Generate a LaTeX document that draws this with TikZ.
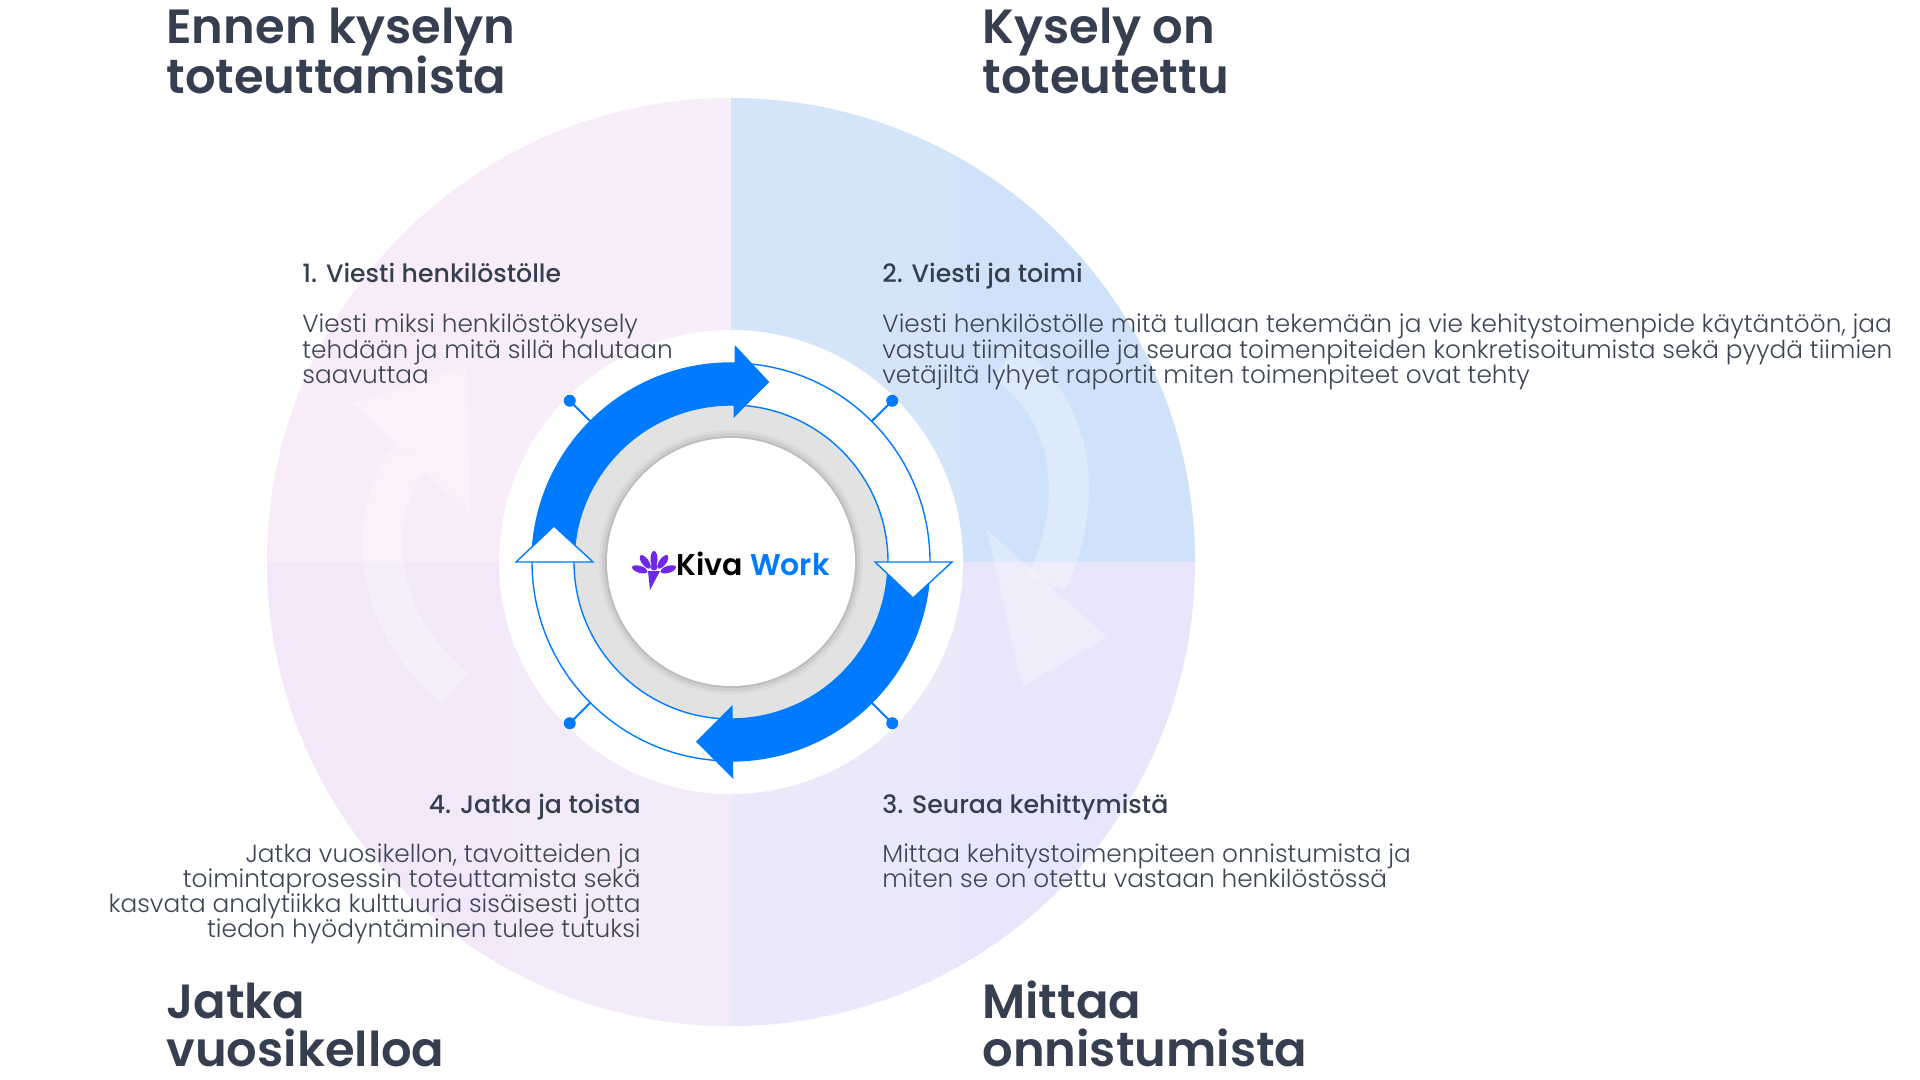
\documentclass[tikz,border=0pt]{standalone}
\usepackage{fontspec}
\setmainfont{Poppins Light}
\newfontfamily\headfont{Poppins SemiBold}
\newfontfamily\subfont{Poppins Medium}
\usetikzlibrary{positioning}

\definecolor{kivablue}{RGB}{0,123,255}
\definecolor{kivapurple}{RGB}{112,40,232}
\definecolor{headgray}{RGB}{54,63,80}
\definecolor{bodygray}{RGB}{62,70,86}
\definecolor{quadtl}{RGB}{248,236,249}
\definecolor{quadtr}{RGB}{207,226,250}
\definecolor{quadbl}{RGB}{242,232,250}
\definecolor{quadbr}{RGB}{232,230,250}
\definecolor{ringgray}{RGB}{226,226,226}

\tikzset{
  heading/.style={anchor=base west,inner sep=0pt,text=headgray,
    font=\headfont\fontsize{24}{26}\selectfont},
  subhead/.style={anchor=base west,inner sep=0pt,text=headgray,
    font=\subfont\fontsize{12.6}{14}\selectfont},
  bodytext/.style={anchor=base west,inner sep=0pt,text=bodygray,
    font=\fontsize{12.4}{14}\selectfont},
  faint/.style={white,opacity=0.3},
  thinblue/.style={draw=kivablue,line width=0.7pt},
  tri/.style={fill=white,draw=kivablue,line width=0.7pt,line join=miter},
}

\begin{document}
\begin{tikzpicture}[x=0.5pt,y=0.5pt]
\useasboundingbox (0,0) rectangle (1920,-1080);
\fill[white] (0,0) rectangle (1920,-1080);

\coordinate (C) at (731,-562);

% big circle in four quarters
\begin{scope}[shift={(C)}]
\fill[quadtl] (0,0) -- (180:464) arc[start angle=180,end angle=90,radius=464] -- cycle;
\fill[quadtr] (0,0) -- (90:464) arc[start angle=90,end angle=0,radius=464] -- cycle;
\fill[quadbr] (0,0) -- (0:464) arc[start angle=0,end angle=-90,radius=464] -- cycle;
\fill[quadbl] (0,0) -- (-90:464) arc[start angle=-90,end angle=-180,radius=464] -- cycle;
\begin{scope}
\clip (0,0) circle (464);
\fill[white,opacity=0.12] (-226,-470) rectangle (229,470);
\end{scope}
\end{scope}

% faint arrows
\draw[faint,line width=20pt] (455,-688) .. controls (370,-620) and (365,-510) .. (411,-458);
\fill[faint] (352,-403) -- (467,-365) -- (470,-513) -- cycle;
\draw[faint,line width=20pt] (1005,-362) .. controls (1075,-410) and (1085,-500) .. (1047,-583);
\fill[faint] (987,-530) -- (1022,-687) -- (1107,-637) -- cycle;

\begin{scope}[shift={(C)}]
% white disc and rings
\fill[white] (0,0) circle (232);
\fill[ringgray] (0,0) circle (157);
\foreach \r/\o in {132/0.03,129/0.05,126/0.08}
  \fill[black,opacity=\o] (0,0) circle (\r);
\fill[white] (0,0) circle (124);
\draw[thinblue] (0,0) circle (199);
\draw[thinblue] (0,0) circle (157);

% blue arrows
\fill[kivablue] (180:199) arc[start angle=180,end angle=89,radius=199]
  -- (89:217) -- (78:184) -- (89:144) -- (89:157)
  arc[start angle=89,end angle=180,radius=157] -- cycle;
\fill[kivablue] (0:199) arc[start angle=0,end angle=-89.4,radius=199]
  -- (-89.4:217) -- (-101:183) -- (-89.4:143) -- (-89.4:157)
  arc[start angle=-89.4,end angle=0,radius=157] -- cycle;

% outlined heads
\draw[tri] (-215,0) -- (-138,0) -- (-177,36) -- cycle;
\draw[tri] (144,0) -- (221,0) -- (182,-36) -- cycle;

% pins
\foreach \a in {45,135,225,315} {
  \draw[thinblue,line width=1pt] (\a:199) -- (\a:228);
  \fill[kivablue] (\a:228) circle (6);
}
\end{scope}

% logo
\begin{scope}[shift={(654,-574)}]
\foreach \a in {90,126,54,162,18}
  \fill[kivapurple,rotate=\a] (15,0) ellipse (8 and 3.5);
\fill[kivapurple] (-6,3) -- (6,3) -- (-4,-16) -- cycle;
\fill[kivapurple] (0,7) circle (3.5);
\end{scope}
\node[anchor=base west,inner sep=0pt,font=\headfont\fontsize{15}{17}\selectfont] (logo)
  at (676,-575) {\textcolor{black}{Kiva} \textcolor{kivablue}{Work}};

% quarter titles
\node[heading] (t1a) at (166,-44) {Ennen kyselyn};
\node[heading] (t1b) at (166,-94) {toteuttamista};
\node[heading] (t2a) at (982,-44) {Kysely on};
\node[heading] (t2b) at (982,-94) {toteutettu};
\node[heading] (t3a) at (982,-1018) {Mittaa};
\node[heading] (t3b) at (982,-1066) {onnistumista};
\node[heading] (t4a) at (166,-1018) {Jatka};
\node[heading] (t4b) at (166,-1066) {vuosikelloa};

% step 1
\node[subhead] (s1) at (302,-283) {1. Viesti henkilöstölle};
\node[bodytext] (s1a) at (302,-333) {Viesti miksi henkilöstökysely};
\node[bodytext] (s1b) at (302,-358) {tehdään ja mitä sillä halutaan};
\node[bodytext] (s1c) at (302,-383) {saavuttaa};

% step 2
\node[subhead] (s2) at (882,-283) {2. Viesti ja toimi};
\node[bodytext] (s2a) at (882,-333) {Viesti henkilöstölle mitä tullaan tekemään ja vie kehitystoimenpide käytäntöön, jaa};
\node[bodytext] (s2b) at (882,-358) {vastuu tiimitasoille ja seuraa toimenpiteiden konkretisoitumista sekä pyydä tiimien};
\node[bodytext] (s2c) at (882,-383) {vetäjiltä lyhyet raportit miten toimenpiteet ovat tehty};

% step 3
\node[subhead] (s3) at (882,-813) {3. Seuraa kehittymistä};
\node[bodytext] (s3a) at (882,-862) {Mittaa kehitystoimenpiteen onnistumista ja};
\node[bodytext] (s3b) at (882,-887) {miten se on otettu vastaan henkilöstössä};

% step 4
\node[subhead,anchor=base east] (s4) at (641,-813) {4. Jatka ja toista};
\node[bodytext,anchor=base east] (s4a) at (641,-862) {Jatka vuosikellon, tavoitteiden ja};
\node[bodytext,anchor=base east] (s4b) at (641,-887) {toimintaprosessin toteuttamista sekä};
\node[bodytext,anchor=base east] (s4c) at (641,-912) {kasvata analytiikka kulttuuria sisäisesti jotta};
\node[bodytext,anchor=base east] (s4d) at (641,-937) {tiedon hyödyntäminen tulee tutuksi};
\end{tikzpicture}
\end{document}
